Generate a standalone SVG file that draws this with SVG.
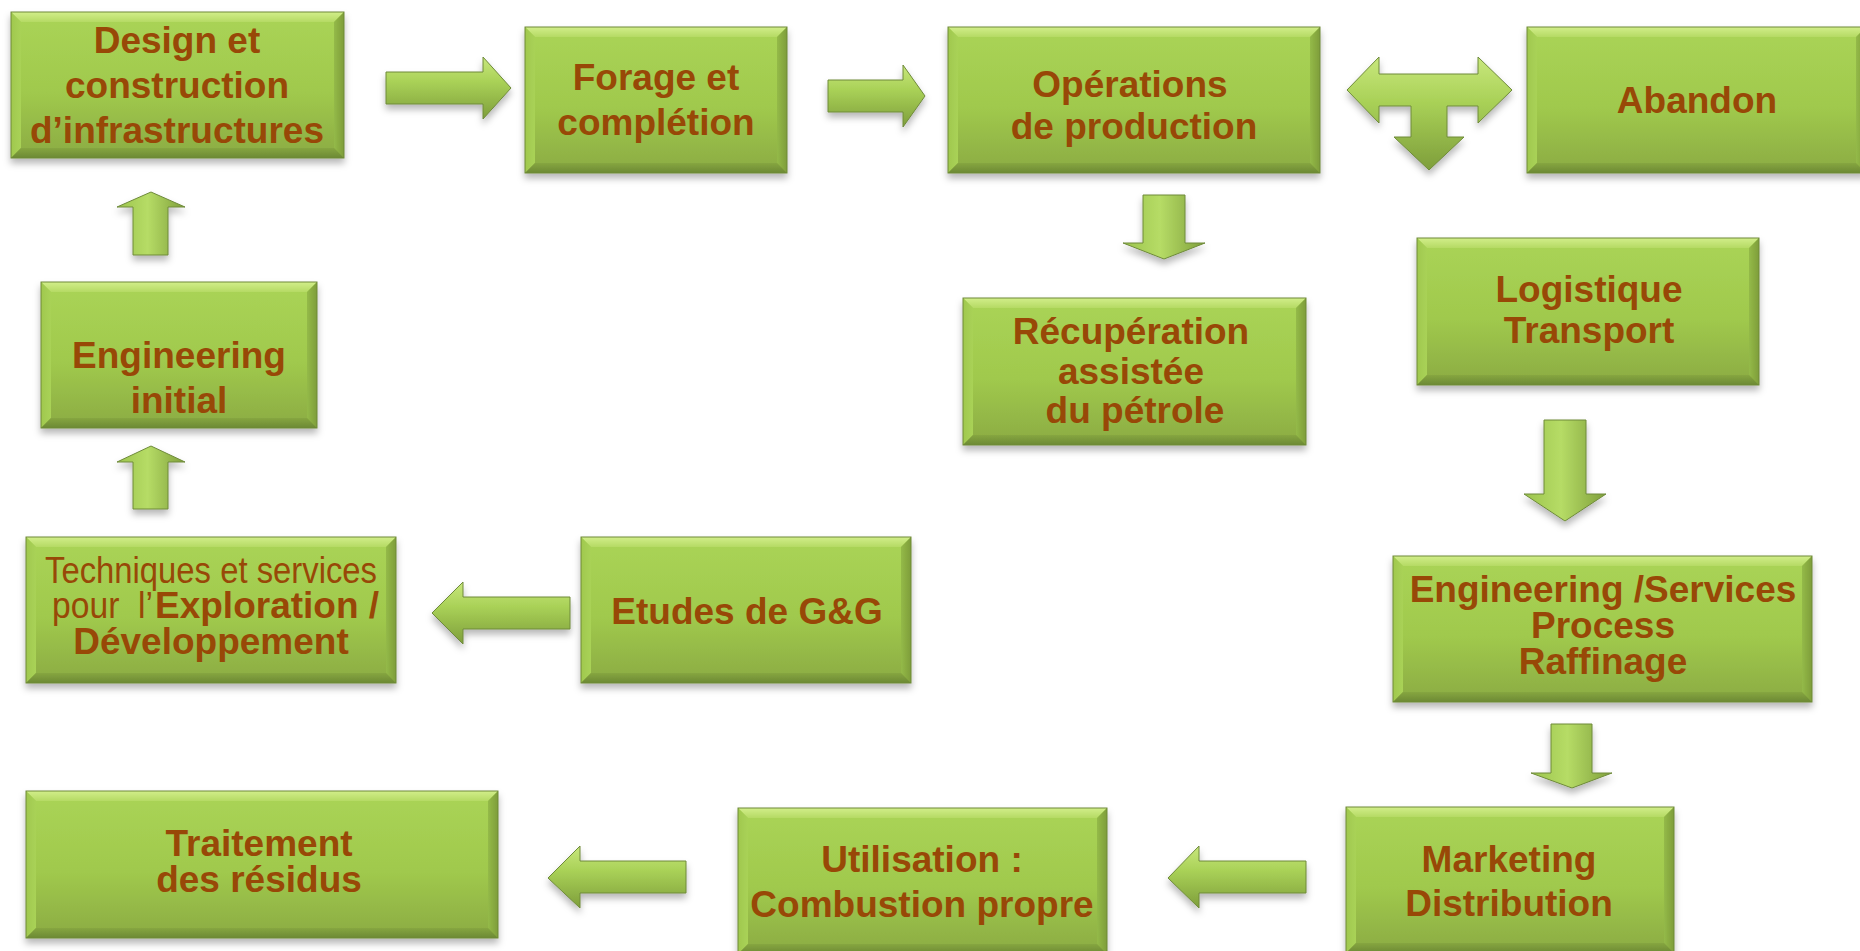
<svg xmlns="http://www.w3.org/2000/svg" width="1860" height="951" viewBox="0 0 1860 951">
<defs>
<linearGradient id="gBody" x1="0" y1="0" x2="0" y2="1"><stop offset="0" stop-color="#AAD456"/><stop offset="0.55" stop-color="#A0C94D"/><stop offset="1" stop-color="#8BAB42"/></linearGradient>
<linearGradient id="gTop" x1="0" y1="0" x2="0" y2="1"><stop offset="0" stop-color="#D2EE8A"/><stop offset="1" stop-color="#B5DA64"/></linearGradient>
<linearGradient id="gLeft" x1="0" y1="0" x2="1" y2="0"><stop offset="0" stop-color="#A0C84E"/><stop offset="1" stop-color="#A9D257"/></linearGradient>
<linearGradient id="gRight" x1="0" y1="0" x2="1" y2="0"><stop offset="0" stop-color="#94BA48"/><stop offset="1" stop-color="#7E9D3A"/></linearGradient>
<linearGradient id="gBot" x1="0" y1="0" x2="0" y2="1"><stop offset="0" stop-color="#86A640"/><stop offset="1" stop-color="#6C8934"/></linearGradient>
<linearGradient id="gAH" x1="0" y1="0" x2="0" y2="1"><stop offset="0" stop-color="#C8E77C"/><stop offset="0.4" stop-color="#A9D157"/><stop offset="1" stop-color="#7E9E3B"/></linearGradient>
<linearGradient id="gAV" x1="0" y1="0" x2="1" y2="0"><stop offset="0" stop-color="#9CC44D"/><stop offset="0.45" stop-color="#B6DC66"/><stop offset="1" stop-color="#7F9F3B"/></linearGradient>
<filter id="sh" x="-10%" y="-10%" width="120%" height="135%"><feDropShadow dx="0" dy="5" stdDeviation="3.5" flood-color="#000" flood-opacity="0.28"/></filter>
</defs>
<style>
.body{fill:url(#gBody)}
.bt{fill:url(#gTop)}
.bl{fill:url(#gLeft)}
.br{fill:url(#gRight)}
.bb{fill:url(#gBot)}
.edge{fill:none;stroke:#6E8A38;stroke-width:1}
.t{font-family:"Liberation Sans",Arial,sans-serif;font-weight:bold;font-size:37px;fill:#984807;text-anchor:middle}
.n{font-family:"Liberation Sans",Arial,sans-serif;font-weight:normal;font-size:36px;fill:#984807}
.b{font-family:"Liberation Sans",Arial,sans-serif;font-weight:bold;font-size:37px;fill:#984807}
.ah{fill:url(#gAH);stroke:#6E8A3A;stroke-width:1;filter:url(#sh)}
.av{fill:url(#gAV);stroke:#6E8A3A;stroke-width:1;filter:url(#sh)}
</style>
<rect x="0" y="0" width="1860" height="951" fill="#FFFFFF"/>

<g id="connectors">
<polygon class="ah" points="386,72 483,72 483,57 511,88 483,119 483,104 386,104"/>
<polygon class="ah" points="828,80 903,80 903,65 925,96 903,127 903,112 828,112"/>
<polygon class="ah" points="1347,90 1379,57 1379,74 1478,74 1478,57 1512,90 1478,123 1478,106 1447,106 1447,137 1464,137 1429,170 1394,137 1411,137 1411,106 1379,106 1379,123"/>
<polygon class="av" points="1143,195 1185,195 1185,243 1205,243 1164,259 1123,243 1143,243"/>
<polygon class="av" points="1544,420 1586,420 1586,494 1606,494 1565,521 1524,494 1544,494"/>
<polygon class="av" points="1551,724 1592,724 1592,773 1612,773 1572,788 1531,773 1551,773"/>
<polygon class="av" points="133,255 133,207 117,207 151,192 185,207 168,207 168,255"/>
<polygon class="av" points="133,509 133,462 117,462 151,446 185,462 168,462 168,509"/>
<polygon class="ah" points="570,597 463,597 463,582 432,613 463,644 463,629 570,629"/>
<polygon class="ah" points="1306,861 1199,861 1199,846 1168,878 1199,908 1199,893 1306,893"/>
<polygon class="ah" points="686,861 580,861 580,846 548,878 580,908 580,893 686,893"/>
</g>

<g id="n-design">
<g filter="url(#sh)">
<rect class="body" x="11" y="12" width="333" height="146"/>
<polygon class="bt" points="11,12 344,12 334,22 21,22"/>
<polygon class="bl" points="11,12 21,22 21,148 11,158"/>
<polygon class="br" points="344,12 344,158 334,148 334,22"/>
<polygon class="bb" points="11,158 21,148 334,148 344,158"/>
<rect class="edge" x="11" y="12" width="333" height="146"/>
</g>
<text class="t" x="177" y="53">Design et</text>
<text class="t" x="177" y="98">construction</text>
<text class="t" x="177" y="143">d’infrastructures</text>
</g>

<g id="n-forage">
<g filter="url(#sh)">
<rect class="body" x="525" y="27" width="262" height="146"/>
<polygon class="bt" points="525,27 787,27 777,37 535,37"/>
<polygon class="bl" points="525,27 535,37 535,163 525,173"/>
<polygon class="br" points="787,27 787,173 777,163 777,37"/>
<polygon class="bb" points="525,173 535,163 777,163 787,173"/>
<rect class="edge" x="525" y="27" width="262" height="146"/>
</g>
<text class="t" x="656" y="90">Forage et</text>
<text class="t" x="656" y="135">complétion</text>
</g>

<g id="n-operations">
<g filter="url(#sh)">
<rect class="body" x="948" y="27" width="372" height="146"/>
<polygon class="bt" points="948,27 1320,27 1310,37 958,37"/>
<polygon class="bl" points="948,27 958,37 958,163 948,173"/>
<polygon class="br" points="1320,27 1320,173 1310,163 1310,37"/>
<polygon class="bb" points="948,173 958,163 1310,163 1320,173"/>
<rect class="edge" x="948" y="27" width="372" height="146"/>
</g>
<text class="t" x="1130" y="97">Opérations</text>
<text class="t" x="1134" y="139">de production</text>
</g>

<g id="n-abandon">
<g filter="url(#sh)">
<rect class="body" x="1527" y="27" width="339" height="146"/>
<polygon class="bt" points="1527,27 1866,27 1856,37 1537,37"/>
<polygon class="bl" points="1527,27 1537,37 1537,163 1527,173"/>
<polygon class="br" points="1866,27 1866,173 1856,163 1856,37"/>
<polygon class="bb" points="1527,173 1537,163 1856,163 1866,173"/>
<rect class="edge" x="1527" y="27" width="339" height="146"/>
</g>
<text class="t" x="1697" y="113">Abandon</text>
</g>

<g id="n-recuperation">
<g filter="url(#sh)">
<rect class="body" x="963" y="298" width="343" height="147"/>
<polygon class="bt" points="963,298 1306,298 1296,308 973,308"/>
<polygon class="bl" points="963,298 973,308 973,435 963,445"/>
<polygon class="br" points="1306,298 1306,445 1296,435 1296,308"/>
<polygon class="bb" points="963,445 973,435 1296,435 1306,445"/>
<rect class="edge" x="963" y="298" width="343" height="147"/>
</g>
<text class="t" x="1131" y="344">Récupération</text>
<text class="t" x="1131" y="384">assistée</text>
<text class="t" x="1135" y="423">du pétrole</text>
</g>

<g id="n-logistique">
<g filter="url(#sh)">
<rect class="body" x="1417" y="238" width="342" height="147"/>
<polygon class="bt" points="1417,238 1759,238 1749,248 1427,248"/>
<polygon class="bl" points="1417,238 1427,248 1427,375 1417,385"/>
<polygon class="br" points="1759,238 1759,385 1749,375 1749,248"/>
<polygon class="bb" points="1417,385 1427,375 1749,375 1759,385"/>
<rect class="edge" x="1417" y="238" width="342" height="147"/>
</g>
<text class="t" x="1589" y="302">Logistique</text>
<text class="t" x="1589" y="343">Transport</text>
</g>

<g id="n-engineering-services">
<g filter="url(#sh)">
<rect class="body" x="1393" y="556" width="419" height="146"/>
<polygon class="bt" points="1393,556 1812,556 1802,566 1403,566"/>
<polygon class="bl" points="1393,556 1403,566 1403,692 1393,702"/>
<polygon class="br" points="1812,556 1812,702 1802,692 1802,566"/>
<polygon class="bb" points="1393,702 1403,692 1802,692 1812,702"/>
<rect class="edge" x="1393" y="556" width="419" height="146"/>
</g>
<text class="t" x="1603" y="602">Engineering /Services</text>
<text class="t" x="1603" y="638">Process</text>
<text class="t" x="1603" y="674">Raffinage</text>
</g>

<g id="n-marketing">
<g filter="url(#sh)">
<rect class="body" x="1346" y="807" width="328" height="146"/>
<polygon class="bt" points="1346,807 1674,807 1664,817 1356,817"/>
<polygon class="bl" points="1346,807 1356,817 1356,943 1346,953"/>
<polygon class="br" points="1674,807 1674,953 1664,943 1664,817"/>
<polygon class="bb" points="1346,953 1356,943 1664,943 1674,953"/>
<rect class="edge" x="1346" y="807" width="328" height="146"/>
</g>
<text class="t" x="1509" y="872">Marketing</text>
<text class="t" x="1509" y="916">Distribution</text>
</g>

<g id="n-utilisation">
<g filter="url(#sh)">
<rect class="body" x="738" y="808" width="369" height="146"/>
<polygon class="bt" points="738,808 1107,808 1097,818 748,818"/>
<polygon class="bl" points="738,808 748,818 748,944 738,954"/>
<polygon class="br" points="1107,808 1107,954 1097,944 1097,818"/>
<polygon class="bb" points="738,954 748,944 1097,944 1107,954"/>
<rect class="edge" x="738" y="808" width="369" height="146"/>
</g>
<text class="t" x="922" y="872">Utilisation :</text>
<text class="t" x="922" y="917">Combustion propre</text>
</g>

<g id="n-traitement">
<g filter="url(#sh)">
<rect class="body" x="26" y="791" width="472" height="147"/>
<polygon class="bt" points="26,791 498,791 488,801 36,801"/>
<polygon class="bl" points="26,791 36,801 36,928 26,938"/>
<polygon class="br" points="498,791 498,938 488,928 488,801"/>
<polygon class="bb" points="26,938 36,928 488,928 498,938"/>
<rect class="edge" x="26" y="791" width="472" height="147"/>
</g>
<text class="t" x="259" y="856">Traitement</text>
<text class="t" x="259" y="892">des résidus</text>
</g>

<g id="n-techniques">
<g filter="url(#sh)">
<rect class="body" x="26" y="537" width="370" height="146"/>
<polygon class="bt" points="26,537 396,537 386,547 36,547"/>
<polygon class="bl" points="26,537 36,547 36,673 26,683"/>
<polygon class="br" points="396,537 396,683 386,673 386,547"/>
<polygon class="bb" points="26,683 36,673 386,673 396,683"/>
<rect class="edge" x="26" y="537" width="370" height="146"/>
</g>
<text class="n" x="45" y="583" textLength="332" lengthAdjust="spacingAndGlyphs">Techniques et services</text>
<text y="618" style="white-space:pre"><tspan class="n" x="52" textLength="101" lengthAdjust="spacingAndGlyphs">pour  l’</tspan><tspan class="b" x="155">Exploration /</tspan></text>
<text class="t" x="211" y="654">Développement</text>
</g>

<g id="n-etudes">
<g filter="url(#sh)">
<rect class="body" x="581" y="537" width="330" height="146"/>
<polygon class="bt" points="581,537 911,537 901,547 591,547"/>
<polygon class="bl" points="581,537 591,547 591,673 581,683"/>
<polygon class="br" points="911,537 911,683 901,673 901,547"/>
<polygon class="bb" points="581,683 591,673 901,673 911,683"/>
<rect class="edge" x="581" y="537" width="330" height="146"/>
</g>
<text class="t" x="747" y="624">Etudes de G&amp;G</text>
</g>

<g id="n-engineering-initial">
<g filter="url(#sh)">
<rect class="body" x="41" y="282" width="276" height="146"/>
<polygon class="bt" points="41,282 317,282 307,292 51,292"/>
<polygon class="bl" points="41,282 51,292 51,418 41,428"/>
<polygon class="br" points="317,282 317,428 307,418 307,292"/>
<polygon class="bb" points="41,428 51,418 307,418 317,428"/>
<rect class="edge" x="41" y="282" width="276" height="146"/>
</g>
<text class="t" x="179" y="368">Engineering</text>
<text class="t" x="179" y="413">initial</text>
</g>
</svg>
